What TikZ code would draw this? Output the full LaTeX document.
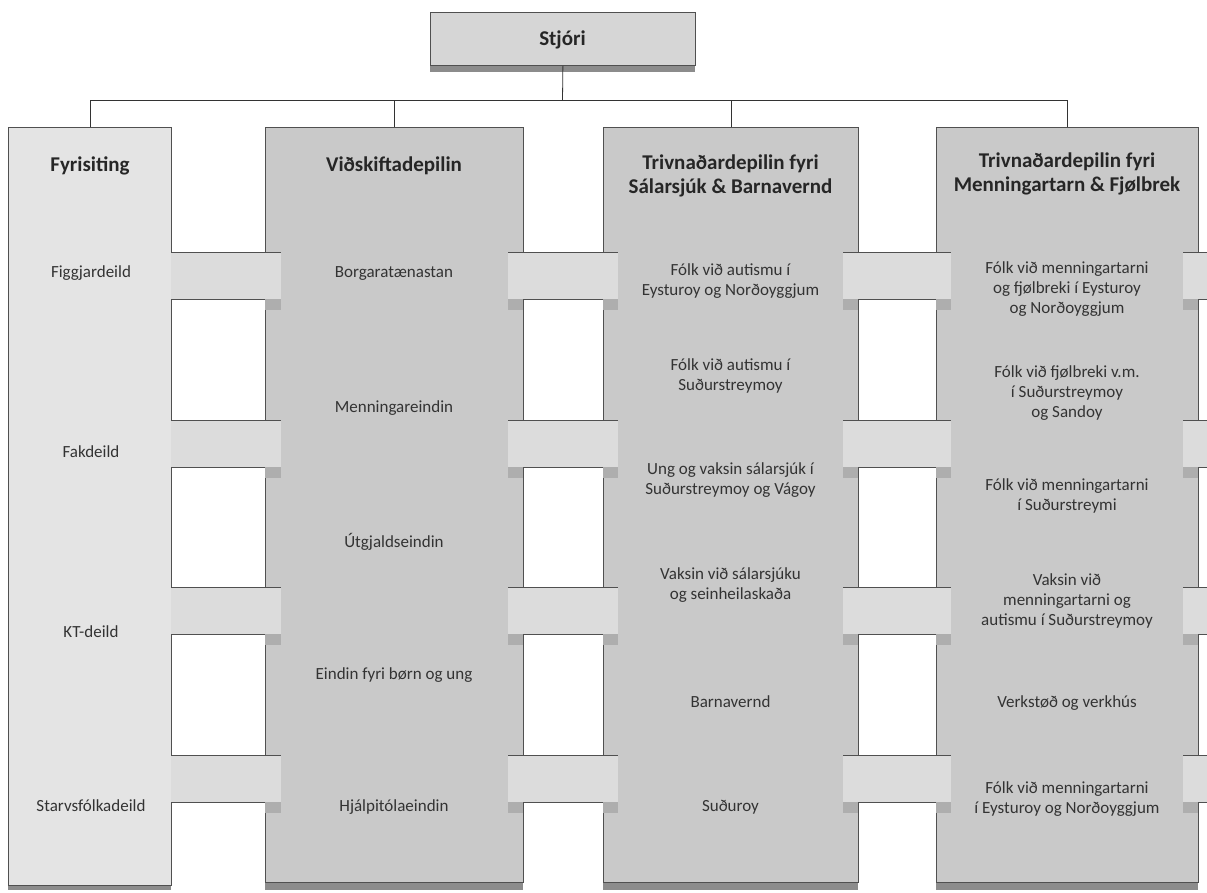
\documentclass[tikz,border=0pt]{standalone}
\usepackage{fontspec}
\setmainfont{Carlito}
\definecolor{colA}{HTML}{E4E4E4}
\definecolor{colB}{HTML}{C9C9C9}
\definecolor{bandc}{HTML}{DCDCDC}
\definecolor{bossc}{HTML}{D6D6D6}
\definecolor{shadowc}{HTML}{8C8C8C}
\definecolor{edgec}{HTML}{505050}
\begin{document}
\begin{tikzpicture}[x=1pt,y=-1pt,
  outerbox/.style={draw=edgec, line width=0.8pt, inner sep=0pt, anchor=north west},
  lightcol/.style={outerbox, fill=colA},
  darkcol/.style={outerbox, fill=colB},
  conn/.style={draw=black!80, line width=0.8pt},
  head/.style={align=center, font=\fontsize{21}{23.5}\selectfont\bfseries, text=black!85},
  item/.style={align=center, font=\fontsize{17}{20}\selectfont, text=black!80},
  bandline/.style={draw=edgec, line width=0.6pt}
]
\useasboundingbox (0,0) rectangle (1207,892);

% ---- boss box
\fill[shadowc] (430,65) rectangle (695,72);
\node[outerbox, fill=bossc, minimum width=265pt, minimum height=53pt] (stj) at (430,12) {};
\node[head] (stjt) at (562.5,40) {Stjóri};

% ---- columns (outer)
\fill[shadowc] (8,885) rectangle (171,890);
\fill[shadowc] (265,882) rectangle (523,890);
\fill[shadowc] (603,882) rectangle (858,890);
\fill[shadowc] (936,882) rectangle (1198,890);
\node[lightcol, minimum width=163pt, minimum height=758pt] (c1) at (8,127) {};
\node[darkcol, minimum width=258pt, minimum height=755pt] (c2) at (265,127) {};
\node[darkcol, minimum width=255pt, minimum height=755pt] (c3) at (603,127) {};
\node[darkcol, minimum width=262pt, minimum height=755pt] (c4) at (936,127) {};

% ---- connectors
\coordinate (bus) at (562.5,100);
\draw[conn] (stj.south) -- (bus);
\draw[conn] (c1.north) -- (c1.north |- bus) -- (c4.north |- bus) -- (c4.north);
\draw[conn] (c2.north) -- (c2.north |- bus);
\draw[conn] (c3.north) -- (c3.north |- bus);

% ---- horizontal bands
\foreach \t in {252,420,587,755}{
  \fill[bandc] (170.5,\t) rectangle (1207,\t+47);
}
% inner parts of the columns, drawn over the bands
\fill[colA] (8.5,128) rectangle (170,884);
\fill[colB] (281,128) rectangle (508,881);
\fill[colB] (618,128) rectangle (843,881);
\fill[colB] (951,128) rectangle (1183,881);
% band edges in the gaps and band shadows
\foreach \t in {252,420,587,755}{
  \draw[bandline] (171,\t) -- (281,\t) (171,\t+47) -- (265,\t+47);
  \draw[bandline] (508,\t) -- (618,\t) (523,\t+47) -- (603,\t+47);
  \draw[bandline] (843,\t) -- (951,\t) (858,\t+47) -- (936,\t+47);
  \draw[bandline] (1183,\t) -- (1207,\t) (1198,\t+47) -- (1207,\t+47);
  \foreach \a/\b in {265/281, 508/523, 603/618, 843/858, 936/951, 1183/1198}{
    \fill[shadowc!70] (\a,\t+47) rectangle (\b,\t+58);
  }
}

% ---- column headers
\node[head] (h1) at (90,166) {Fyrisiting};
\node[head] (h2) at (394,166) {Viðskiftadepilin};
\node[head] (h3) at (730.5,176) {Trivnaðardepilin fyri\\Sálarsjúk \& Barnavernd};
\node[head] (h4) at (1067,174) {Trivnaðardepilin fyri\\Menningartarn \& Fjølbrek};

% ---- column 1 items
\node[item] (a1) at (91,273) {Figgjardeild};
\node[item] (a2) at (91,452) {Fakdeild};
\node[item] (a3) at (91,632) {KT-deild};
\node[item] (a4) at (91,806) {Starvsfólkadeild};

% ---- column 2 items
\node[item] (b1) at (394,274) {Borgaratænastan};
\node[item] (b2) at (394,408) {Menningareindin};
\node[item] (b3) at (394,542) {Útgjaldseindin};
\node[item] (b4) at (394,675) {Eindin fyri børn og ung};
\node[item] (b5) at (394,807) {Hjálpitólaeindin};

% ---- column 3 items
\node[item] (d1) at (730.5,281) {Fólk við autismu í\\Eysturoy og Norðoyggjum};
\node[item] (d2) at (730.5,376) {Fólk við autismu í\\Suðurstreymoy};
\node[item] (d3) at (730.5,480) {Ung og vaksin sálarsjúk í\\Suðurstreymoy og Vágoy};
\node[item] (d4) at (730.5,585) {Vaksin við sálarsjúku\\og seinheilaskaða};
\node[item] (d5) at (730.5,702) {Barnavernd};
\node[item] (d6) at (730.5,807) {Suðuroy};

% ---- column 4 items
\node[item] (e1) at (1067,289) {Fólk við menningartarni\\og fjølbreki í Eysturoy\\og Norðoyggjum};
\node[item] (e2) at (1067,393) {Fólk við fjølbreki v.m.\\í Suðurstreymoy\\og Sandoy};
\node[item] (e3) at (1067,496) {Fólk við menningartarni\\í Suðurstreymi};
\node[item] (e4) at (1067,601) {Vaksin við\\menningartarni og\\autismu í Suðurstreymoy};
\node[item] (e5) at (1067,703) {Verkstøð og verkhús};
\node[item] (e6) at (1067,799) {Fólk við menningartarni\\í Eysturoy og Norðoyggjum};
\end{tikzpicture}
\end{document}
